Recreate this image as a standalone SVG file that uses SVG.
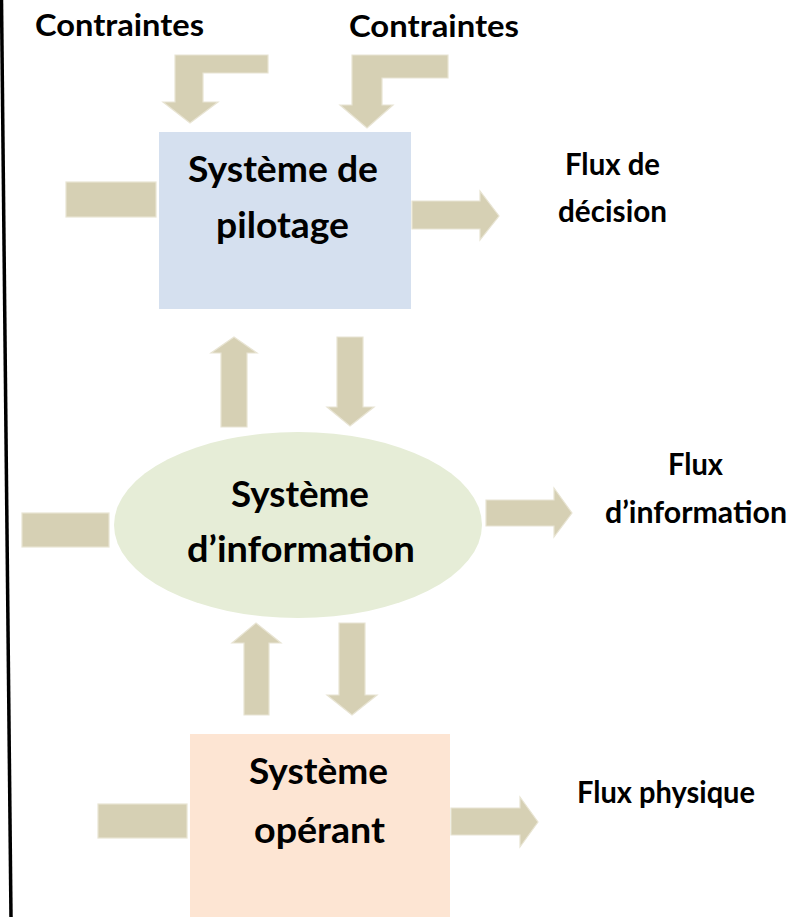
<svg xmlns="http://www.w3.org/2000/svg" width="800" height="917" viewBox="0 0 800 917">
  <style>
    .arrow { fill: #d6d0b4; stroke: #e8e4d3; stroke-width: 1.2; }
    .node-text { font-family: Lato, "Open Sans", "Liberation Sans", sans-serif; font-weight: bold; font-size: 37px; fill: #000; }
    .label { font-family: Lato, "Open Sans", "Liberation Sans", sans-serif; font-weight: bold; font-size: 30px; fill: #000; }
  </style>
  <rect x="0" y="0" width="800" height="917" fill="#ffffff"/>
  <line x1="1.5" y1="0" x2="11" y2="917" stroke="#000" stroke-width="3.5"/>

  <g id="connectors">
    <!-- Contraintes bent arrows -->
    <polygon class="arrow" points="268,55 175,55 175,102 163,102 190,123 218,102 203,102 203,73 268,73"/>
    <polygon class="arrow" points="448,55 352,55 352,105 340,105 367,128 393,105 382,105 382,78 448,78"/>
    <!-- pilotage in/out -->
    <rect class="arrow" x="66" y="182" width="90" height="35"/>
    <polygon class="arrow" points="412,201 480,201 480,191 499,216 480,240 480,229 412,229"/>
    <!-- information <-> pilotage -->
    <polygon class="arrow" points="221,427 221,353 211,353 234,337 257,353 247,353 247,427"/>
    <polygon class="arrow" points="337,337 363,337 363,407 374,407 350,426 327,407 337,407"/>
    <!-- information in/out -->
    <rect class="arrow" x="22" y="513" width="87" height="34"/>
    <polygon class="arrow" points="486,500 554,500 554,488 572,513 554,537 554,526 486,526"/>
    <!-- operant <-> information -->
    <polygon class="arrow" points="244,715 244,643 232,643 256,623 281,643 269,643 269,715"/>
    <polygon class="arrow" points="339,623 365,623 365,695 377,695 352,715 327,695 339,695"/>
    <!-- operant in/out -->
    <rect class="arrow" x="98" y="804" width="89" height="34"/>
    <polygon class="arrow" points="451,808 520,808 520,797 538,822 520,847 520,835 451,835"/>
  </g>

  <g id="labels">
    <text class="label" x="35" y="36" textLength="169" lengthAdjust="spacingAndGlyphs">Contraintes</text>
    <text class="label" x="349" y="37" textLength="170" lengthAdjust="spacingAndGlyphs">Contraintes</text>
    <text class="label" x="565" y="175" textLength="95" lengthAdjust="spacingAndGlyphs">Flux de</text>
    <text class="label" x="558" y="222" textLength="109" lengthAdjust="spacingAndGlyphs">décision</text>
    <text class="label" x="668" y="475" textLength="55" lengthAdjust="spacingAndGlyphs">Flux</text>
    <text class="label" x="605" y="523" textLength="182" lengthAdjust="spacingAndGlyphs">d’information</text>
    <text class="label" x="577" y="803" textLength="178" lengthAdjust="spacingAndGlyphs">Flux physique</text>
  </g>

  <g id="systeme-pilotage">
    <rect x="159" y="132" width="252" height="177" fill="#d5e0ef"/>
    <text class="node-text" x="188" y="182" textLength="190" lengthAdjust="spacingAndGlyphs">Système de</text>
    <text class="node-text" x="216" y="238" textLength="133" lengthAdjust="spacingAndGlyphs">pilotage</text>
  </g>

  <g id="systeme-information">
    <ellipse cx="298" cy="525" rx="184" ry="93" fill="#e6edd7"/>
    <text class="node-text" x="231" y="507" textLength="138" lengthAdjust="spacingAndGlyphs">Système</text>
    <text class="node-text" x="187" y="562" textLength="228" lengthAdjust="spacingAndGlyphs">d’information</text>
  </g>

  <g id="systeme-operant">
    <rect x="190" y="734" width="260" height="183" fill="#fde5d3"/>
    <text class="node-text" x="249" y="784" textLength="139" lengthAdjust="spacingAndGlyphs">Système</text>
    <text class="node-text" x="254" y="843" textLength="131" lengthAdjust="spacingAndGlyphs">opérant</text>
  </g>
</svg>
